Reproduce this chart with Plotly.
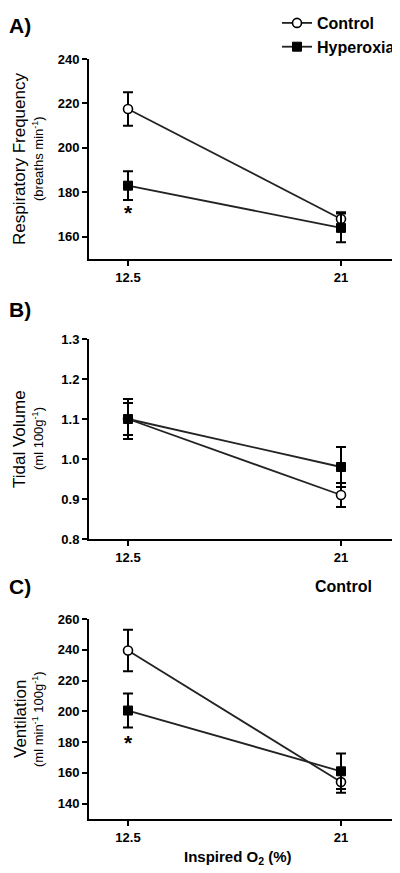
import plotly.graph_objects as go

# ---------------- data ----------------
o2_levels = [12.5, 21]
o2_ticklabels = ["12.5", "21"]

rf_control = [217.5, 168]
rf_control_err = [7.5, 3]
rf_hyperoxia = [183, 164]
rf_hyperoxia_err = [6.5, 6.5]

vt_control = [1.10, 0.91]
vt_control_err = [0.04, 0.03]
vt_hyperoxia = [1.10, 0.98]
vt_hyperoxia_err = [0.05, 0.05]

ve_control = [239.5, 154]
ve_control_err = [13.5, 7]
ve_hyperoxia = [200.5, 161]
ve_hyperoxia_err = [11, 11.5]

panel_labels = ["A)", "B)", "C)"]
y_titles = ["Respiratory Frequency", "Tidal Volume", "Ventilation"]
y_units = ["(breaths min<sup>-1</sup>)", "(ml 100g<sup>-1</sup>)",
           "(ml min<sup>-1</sup> 100g<sup>-1</sup>)"]
y_ranges = [[150, 240], [0.8, 1.3], [130, 260]]
y_ticks = [[160, 180, 200, 220, 240], [0.8, 0.9, 1.0, 1.1, 1.2, 1.3],
           [140, 160, 180, 200, 220, 240, 260]]
y_tickformat = ["d", ".1f", "d"]
sig_marks = [(12.5, 171), None, (12.5, 180)]

# page has an 8px body margin -> figure drawn 8px in from the window edge
OFF = 8
W, H = 400 - OFF, 873 - OFF
FONT = "Liberation Sans"


def px(xp):
    return (xp - OFF) / W


def py(yp):
    return 1 - (yp - OFF) / H


# panel pixel geometry in window coords (top, bottom of plot area)
x_left, x_right = 89, 392
panels_px = [(59, 259), (339, 539), (619, 819)]

fig = go.Figure()

series = [
    (rf_control, rf_control_err, rf_hyperoxia, rf_hyperoxia_err),
    (vt_control, vt_control_err, vt_hyperoxia, vt_hyperoxia_err),
    (ve_control, ve_control_err, ve_hyperoxia, ve_hyperoxia_err),
]

line_col = "#222222"
for i, (c, ce, h, he) in enumerate(series):
    xa = "x" if i == 0 else f"x{i+1}"
    ya = "y" if i == 0 else f"y{i+1}"
    fig.add_trace(go.Scatter(
        x=o2_levels, y=c, mode="lines+markers", name="Control",
        legendgroup="c", showlegend=(i == 0), xaxis=xa, yaxis=ya,
        line=dict(color=line_col, width=1.8),
        marker=dict(symbol="circle", size=9, color="white",
                    line=dict(color="black", width=1.6)),
        error_y=dict(type="data", array=ce, color="black", thickness=2, width=5),
    ))
    fig.add_trace(go.Scatter(
        x=o2_levels, y=h, mode="lines+markers", name="Hyperoxia",
        legendgroup="h", showlegend=(i == 0), xaxis=xa, yaxis=ya,
        line=dict(color=line_col, width=1.8),
        marker=dict(symbol="square", size=9, color="black",
                    line=dict(color="black", width=1)),
        error_y=dict(type="data", array=he, color="black", thickness=2, width=5),
    ))

# x range such that 12.5 -> px 128 and 21 -> px 341
px_per_unit = (341 - 128) / (21 - 12.5)
x_range = [12.5 - (128 - x_left) / px_per_unit, 21 + (x_right - 341) / px_per_unit]

layout = dict(
    width=W, height=H, autosize=False,
    margin=dict(l=0, r=0, t=0, b=0, autoexpand=False),
    paper_bgcolor="white", plot_bgcolor="white",
    font=dict(family=FONT, color="black"),
    legend=dict(x=px(277), y=py(6), xanchor="left", yanchor="top",
                font=dict(family=FONT, size=16, color="black", weight="bold"),
                bgcolor="rgba(0,0,0,0)", tracegroupgap=0),
)
annotations = []
for i, (top, bot) in enumerate(panels_px):
    sfx = "" if i == 0 else str(i + 1)
    layout["xaxis" + sfx] = dict(
        domain=[px(x_left), px(x_right)], range=x_range, anchor="y" + sfx,
        showline=True, linecolor="black", linewidth=2, mirror=False,
        ticks="outside", ticklen=5, tickwidth=2, tickcolor="black",
        tickvals=o2_levels, ticktext=o2_ticklabels, showgrid=False, zeroline=False,
        tickfont=dict(family=FONT, size=13, color="black", weight="bold"),
    )
    layout["yaxis" + sfx] = dict(
        domain=[py(bot), py(top)], range=y_ranges[i], anchor="x" + sfx,
        showline=True, linecolor="black", linewidth=2,
        ticks="outside", ticklen=5, tickwidth=2, tickcolor="black",
        tickvals=y_ticks[i], tickformat=y_tickformat[i],
        showgrid=False, zeroline=False,
        tickfont=dict(family=FONT, size=13, color="black", weight="bold"),
    )
    mid = py((top + bot) / 2)
    annotations.append(dict(text=y_titles[i], x=px(20), y=mid, xref="paper", yref="paper",
                            textangle=-90, showarrow=False, xanchor="center", yanchor="middle",
                            font=dict(family=FONT, size=17, color="black")))
    annotations.append(dict(text=y_units[i], x=px(38), y=mid, xref="paper", yref="paper",
                            textangle=-90, showarrow=False, xanchor="center", yanchor="middle",
                            font=dict(family=FONT, size=13, color="black")))
    label_y = [25, 309, 586][i]
    annotations.append(dict(text=panel_labels[i], x=px(7), y=py(label_y),
                            xref="paper", yref="paper", showarrow=False,
                            xanchor="left", yanchor="middle",
                            font=dict(family=FONT, size=21, color="black", weight="bold")))
    if sig_marks[i] is not None:
        sx, sy = sig_marks[i]
        annotations.append(dict(text="*", x=sx, y=sy, xref="x" + sfx, yref="y" + sfx,
                                showarrow=False, xanchor="center", yanchor="middle",
                                font=dict(family=FONT, size=21, color="black", weight="bold")))

annotations.append(dict(text="Control", x=px(343), y=py(586), xref="paper", yref="paper",
                        showarrow=False, xanchor="center", yanchor="middle",
                        font=dict(family=FONT, size=16, color="black", weight="bold")))
annotations.append(dict(text="Inspired O<sub>2</sub> (%)", x=px(238), y=py(857),
                        xref="paper", yref="paper", showarrow=False,
                        xanchor="center", yanchor="middle",
                        font=dict(family=FONT, size=15, color="black", weight="bold")))
layout["annotations"] = annotations
fig.update_layout(**layout)
fig.write_html("out.html")
